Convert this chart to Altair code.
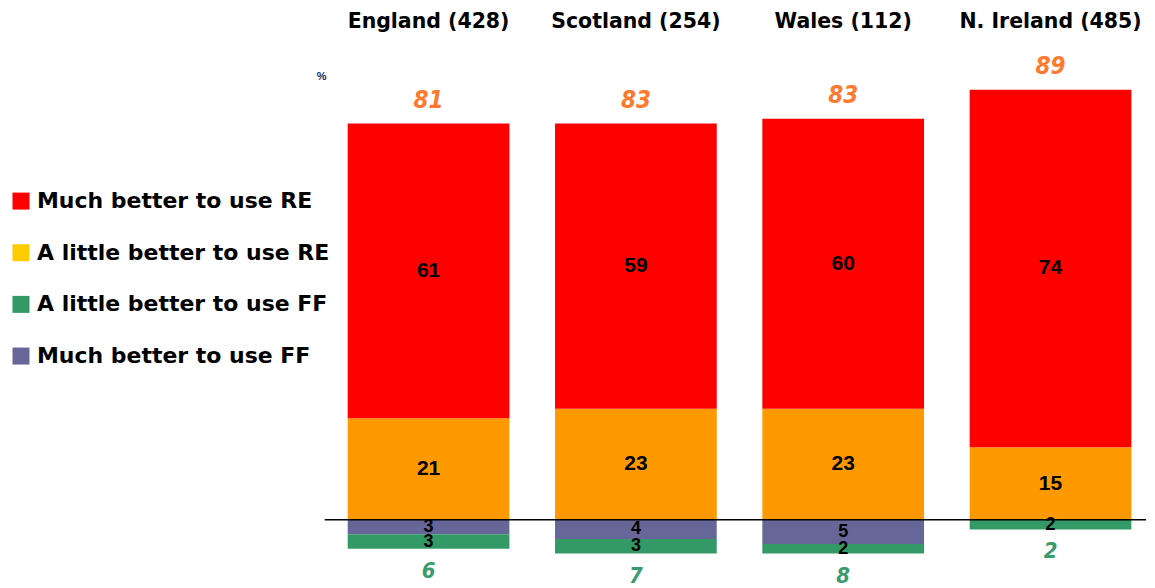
import altair as alt
import pandas as pd

regions = ["England (428)", "Scotland (254)", "Wales (112)", "N. Ireland (485)"]
much_re = [61, 59, 60, 74]
little_re = [21, 23, 23, 15]
much_ff = [3, 4, 5, 0]
little_ff = [3, 3, 2, 2]
total_re = [81, 83, 83, 89]
total_ff = [6, 7, 8, 2]

series = ["Much better to use RE", "A little better to use RE",
          "A little better to use FF", "Much better to use FF"]
bar_colors = ["#FF0000", "#FF9900", "#339966", "#666699"]
legend_colors = ["#FF0000", "#FFCC00", "#339966", "#666699"]

rows = []
for i, r in enumerate(regions):
    segs = [
        (series[1], 0, little_re[i], bar_colors[1], little_re[i]),
        (series[0], little_re[i], little_re[i] + much_re[i], bar_colors[0], much_re[i]),
        (series[3], 0, -much_ff[i], bar_colors[3], much_ff[i]),
        (series[2], -much_ff[i], -much_ff[i] - little_ff[i], bar_colors[2], little_ff[i]),
    ]
    for s, a, b, c, v in segs:
        if v > 0:
            rows.append(dict(region=r, series=s, y0=a, y1=b, mid=(a + b) / 2, value=v,
                             fill=c, pos=a + b > 0))
bars_df = pd.DataFrame(rows)

tot_df = pd.DataFrame({
    "region": regions,
    "top": [a + b for a, b in zip(little_re, much_re)],
    "bottom": [-(a + b) for a, b in zip(much_ff, little_ff)],
    "total_re": total_re,
    "total_ff": total_ff,
})

x_enc = alt.X(
    "region:N", sort=regions,
    scale=alt.Scale(paddingInner=0.22, paddingOuter=0.0907, align=0.611),
    axis=alt.Axis(orient="top", title=None, ticks=False, domain=False, tickSize=0,
                  labelFont="DejaVu Sans", labelFontWeight="bold", labelFontSize=20.5,
                  labelColor="black", labelPadding=15, labelAngle=0, labelLimit=300),
)
y_scale = alt.Scale(domain=[-12, 98], nice=False, zero=False)

bars = alt.Chart(bars_df).mark_bar().encode(
    x=x_enc,
    y=alt.Y("y0:Q", scale=y_scale, axis=None),
    y2="y1:Q",
    fill=alt.Fill("fill:N", scale=None, legend=None),
)

inner_pos = alt.Chart(bars_df).transform_filter("datum.pos").mark_text(
    font="Liberation Sans", fontWeight="bold", fontSize=21, color="black", baseline="middle"
).encode(x=alt.X("region:N", sort=regions), y=alt.Y("mid:Q", scale=y_scale), text="value:Q")

inner_neg = alt.Chart(bars_df).transform_filter("!datum.pos").mark_text(
    font="Liberation Sans", fontWeight="bold", fontSize=18, color="black", baseline="middle"
).encode(x=alt.X("region:N", sort=regions), y=alt.Y("mid:Q", scale=y_scale), text="value:Q")

top_lbl = alt.Chart(tot_df).mark_text(
    font="Liberation Sans Narrow, DejaVu Sans Condensed, Liberation Sans", fontWeight="bold",
    fontStyle="italic", fontSize=24, color="#FF7A2E", baseline="middle", dy=-23
).encode(x=alt.X("region:N", sort=regions), y=alt.Y("top:Q", scale=y_scale), text="total_re:Q")

bot_lbl = alt.Chart(tot_df).mark_text(
    font="Liberation Sans Narrow, DejaVu Sans Condensed, Liberation Sans", fontWeight="bold",
    fontStyle="italic", fontSize=22, color="#3A9B6E", baseline="middle", dy=22
).encode(x=alt.X("region:N", sort=regions), y=alt.Y("bottom:Q", scale=y_scale), text="total_ff:Q")

zero_rule = alt.Chart(pd.DataFrame({"zero": [0]})).mark_rule(
    color="black", strokeWidth=1.5
).encode(y=alt.Y("zero:Q", scale=y_scale))

pct = alt.Chart(pd.DataFrame({"t": ["%"]})).mark_text(
    font="Liberation Sans", fontWeight="bold", fontSize=11, color="#1F1F5C"
).encode(text="t:N", x=alt.value(-3), y=alt.value(31))

legend_layer = alt.Chart(pd.DataFrame({"series": series})).mark_square(
    size=0, opacity=0
).encode(
    color=alt.Color(
        "series:N",
        scale=alt.Scale(domain=series, range=legend_colors),
        legend=alt.Legend(
            title=None, orient="none", legendX=-315, legendY=144,
            symbolType="square", symbolSize=289, symbolOpacity=1, symbolStrokeWidth=0,
            labelFont="DejaVu Sans", labelFontWeight="bold", labelFontSize=22,
            labelColor="black", labelLimit=400, labelOffset=5, rowPadding=29.7,
            padding=0,
        ),
    )
)

chart = alt.layer(bars, inner_pos, inner_neg, top_lbl, bot_lbl, zero_rule, pct,
                  legend_layer).properties(
    width=822, height=532,
    padding={"left": 2, "top": 3, "right": 0, "bottom": 0},
).configure_view(stroke=None)

chart.save("out.html", embed_options={"renderer": "svg", "actions": False})
